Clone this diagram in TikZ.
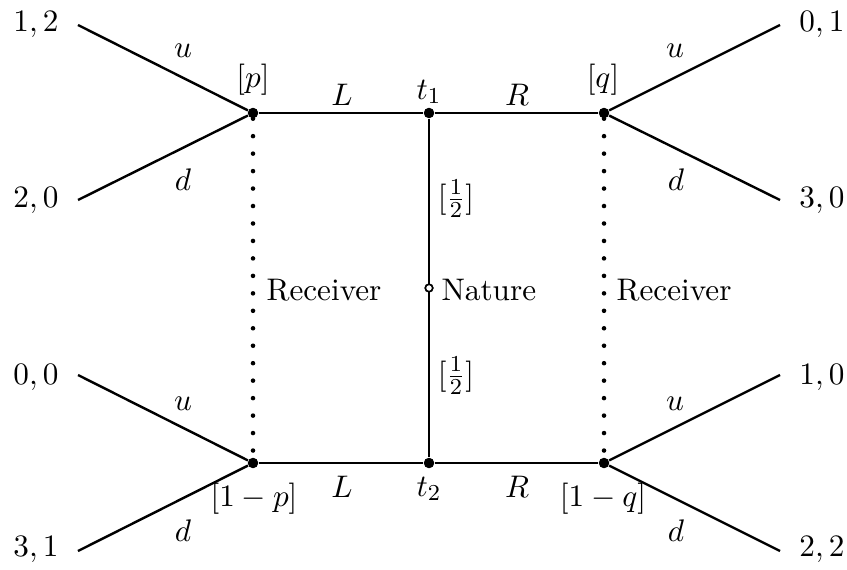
\documentclass[tikz,border=0pt]{standalone}
\begin{document}
\begin{tikzpicture}[x=0.351pt,y=-0.351pt,
  every node/.style={font=\fontsize{10.95}{13}\selectfont},
  dec/.style={circle,fill=black,inner sep=0pt,minimum size=3.6pt},
  chance/.style={circle,draw=black,fill=white,line width=0.55pt,inner sep=0pt,minimum size=2.6pt},
  edge/.style={line width=0.85pt},
  info/.style={line width=1.6pt,line cap=round,dash pattern=on 0pt off 6.13pt},
  lbl/.style={inner sep=0pt}]
\useasboundingbox (0,0) rectangle (847,569);
% decision nodes
\node[dec] (p) at (253,113) {};
\node[dec] (t1) at (429,113) {};
\node[dec] (q) at (604,113) {};
\node[dec] (p2) at (253,463) {};
\node[dec] (t2) at (429,463) {};
\node[dec] (q2) at (604,463) {};
\node[chance] (n) at (429,288) {};
% terminal points
\coordinate (a1) at (78,25);
\coordinate (a2) at (78,200);
\coordinate (a3) at (78,375);
\coordinate (a4) at (78,551);
\coordinate (b1) at (780,25);
\coordinate (b2) at (780,200);
\coordinate (b3) at (780,375);
\coordinate (b4) at (780,551);
% edges
\draw[edge] (p) -- (t1) -- (q);
\draw[edge] (p2) -- (t2) -- (q2);
\draw[edge] (t1) -- (n) -- (t2);
\draw[edge] (a1) -- (p) -- (a2);
\draw[edge] (a3) -- (p2) -- (a4);
\draw[edge] (b1) -- (q) -- (b2);
\draw[edge] (b3) -- (q2) -- (b4);
% information sets
\draw[info] (p) -- (p2);
\draw[info] (q) -- (q2);
% redraw nodes on top
\node[dec] at (p) {};
\node[dec] at (t1) {};
\node[dec] at (q) {};
\node[dec] at (p2) {};
\node[dec] at (t2) {};
\node[dec] at (q2) {};
\node[chance] at (n) {};
% payoffs
\node[lbl] (pa1) at (36,24) {$1,2$};
\node[lbl] (pa2) at (36,200) {$2,0$};
\node[lbl] (pa3) at (36,377) {$0,0$};
\node[lbl] (pa4) at (36,549) {$3,1$};
\node[lbl] (pb1) at (822,24) {$0,1$};
\node[lbl] (pb2) at (822,200) {$3,0$};
\node[lbl] (pb3) at (822,377) {$1,0$};
\node[lbl] (pb4) at (822,549) {$2,2$};
% action labels
\node[lbl] (u1) at (183,51) {$u$};
\node[lbl] (d1) at (183,180) {$d$};
\node[lbl] (u2) at (183,404) {$u$};
\node[lbl] (d2) at (183,531) {$d$};
\node[lbl] (u3) at (675,51) {$u$};
\node[lbl] (d3) at (676,180) {$d$};
\node[lbl] (u4) at (675,404) {$u$};
\node[lbl] (d4) at (676,531) {$d$};
\node[lbl] (L1) at (342,95) {$L$};
\node[lbl] (R1) at (517,95) {$R$};
\node[lbl] (L2) at (342,487) {$L$};
\node[lbl] (R2) at (517,487) {$R$};
\node[lbl] (t1l) at (429,92) {$t_1$};
\node[lbl] (t2l) at (429,489) {$t_2$};
% beliefs
\node[lbl] (bp) at (253,80) {$[p]$};
\node[lbl] (bq) at (603,80) {$[q]$};
\node[lbl] (bp2) at (254,499) {$[1-p]$};
\node[lbl] (bq2) at (603,499) {$[1-q]$};
\node[lbl] (h1) at (456,199) {$[\frac{1}{2}]$};
\node[lbl] (h2) at (456,376) {$[\frac{1}{2}]$};
% player labels
\node[lbl,anchor=west] (nat) at (441,290) {Nature};
\node[lbl,anchor=west] (rec1) at (266,290) {Receiver};
\node[lbl,anchor=west] (rec2) at (616,290) {Receiver};
\end{tikzpicture}
\end{document}
